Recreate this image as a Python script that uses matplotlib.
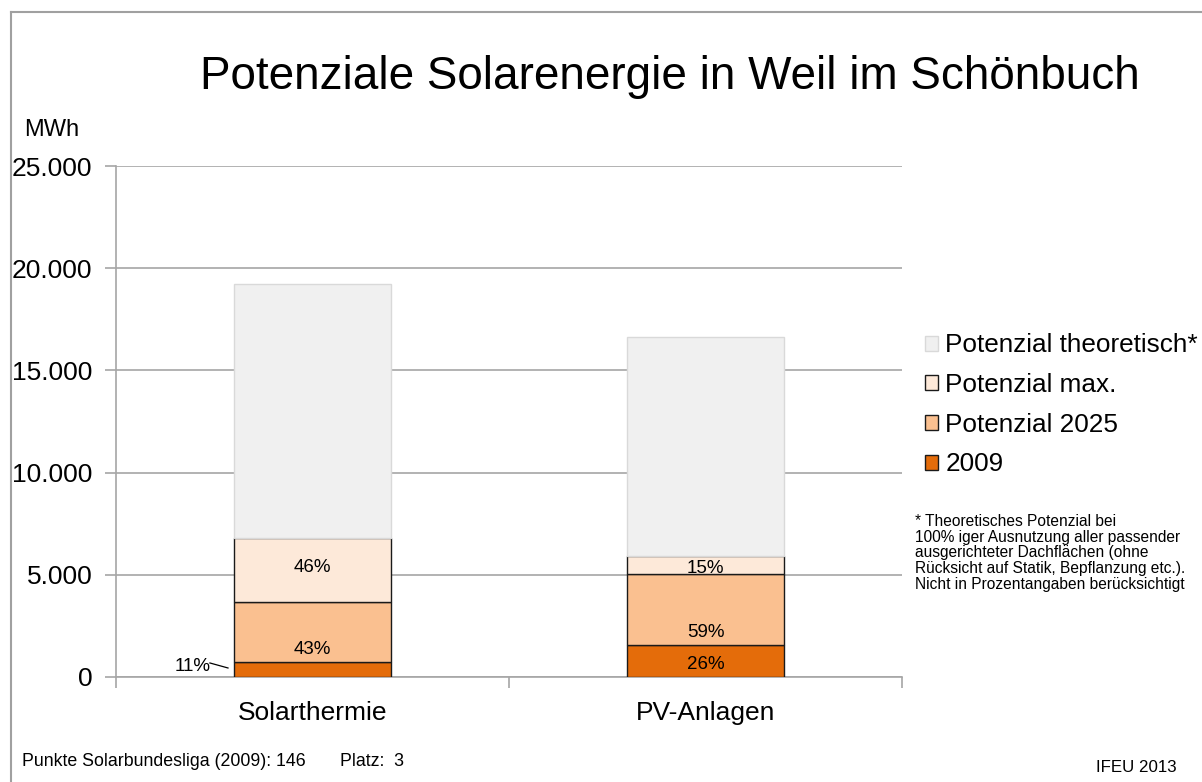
import numpy as np
import matplotlib
matplotlib.use('Agg')
import matplotlib.pyplot as plt
from matplotlib.patches import Patch
from matplotlib.lines import Line2D

plt.rcParams['font.family'] = ['Liberation Sans', 'DejaVu Sans']

categories = ['Solarthermie', 'PV-Anlagen']
# max. potential (MWh) and shares of it in percent
potential_max = np.array([6800, 5930])
share_2009 = np.array([11, 26])
share_2025 = np.array([43, 59])
share_max = np.array([46, 15])
# theoretical potential, total height of the bar (MWh)
potential_theoretical = np.array([19250, 16620])

series = ['2009', 'Potenzial 2025', 'Potenzial max.', 'Potenzial theoretisch*']
colors = ['#E46C0A', '#FAC090', '#FDE9D9', '#F0F0F0']
edges = ['#1a1a1a', '#1a1a1a', '#1a1a1a', '#D9D9D9']

seg_2009 = potential_max * share_2009 / 100
seg_2025 = potential_max * share_2025 / 100
seg_max = potential_max * share_max / 100
seg_theo = potential_theoretical - potential_max
segments = [seg_2009, seg_2025, seg_max, seg_theo]
shares = [share_2009, share_2025, share_max, None]

fig = plt.figure(figsize=(12.02, 7.82), dpi=100)
ax = fig.add_axes([0.0965, 0.1343, 0.6539, 0.6534])

x = np.arange(len(categories))
bottom = np.zeros(len(categories))
for vals, name, c, ec in zip(segments, series, colors, edges):
    ax.bar(x, vals, width=0.4, bottom=bottom, color=c, edgecolor=ec,
           linewidth=1.0, label=name, zorder=3)
    bottom = bottom + vals

# percentage labels
base = np.zeros(len(categories))
for k, (vals, sh) in enumerate(zip(segments, shares)):
    if sh is None:
        break
    for i in range(len(categories)):
        txt = '%d%%' % sh[i]
        if k == 0 and i == 0:
            # small segment: label left of the bar with a leader line
            ax.text(x[i] - 0.304, 490, txt, fontsize=13.5, ha='center',
                    va='center', zorder=5)
            ax.plot([x[i] - 0.261, x[i] - 0.215], [685, 440], color='black',
                    lw=0.9, zorder=5, clip_on=False)
            continue
        if k == 2 and i == 0:
            ax.text(x[i], base[i] + vals[i] / 2 + 100, txt, fontsize=13.5,
                    ha='center', va='center', zorder=5)
            continue
        off = 4 if (k == 2) else 9
        ax.annotate(txt, xy=(x[i], base[i]), xytext=(0, off),
                    textcoords='offset points', fontsize=13.5,
                    ha='center', va='center', zorder=5)
    base = base + vals

ax.set_xlim(-0.5, 1.5)
ax.set_ylim(0, 25000)
ax.set_yticks(np.arange(0, 25001, 5000))
ax.set_yticklabels(['0', '5.000', '10.000', '15.000', '20.000', '25.000'])
ax.yaxis.grid(True, color='#A6A6A6', linewidth=1.2, zorder=0)
ax.set_xticks([-0.5, 0.5, 1.5])
ax.set_xticklabels([])
ax.set_xticks(x, minor=True)
ax.set_xticklabels(categories, minor=True)
ax.tick_params(axis='x', which='minor', length=0, pad=17, labelsize=19)
ax.tick_params(axis='x', which='major', length=8, width=1.2, color='#A6A6A6')
ax.tick_params(axis='y', length=8, width=1.2, color='#A6A6A6', pad=9, labelsize=19)
for s in ['top', 'right']:
    ax.spines[s].set_visible(False)
for s in ['left', 'bottom']:
    ax.spines[s].set_color('#A6A6A6')
    ax.spines[s].set_linewidth(1.2)

fig.text(0.557, 0.9015, 'Potenziale Solarenergie in Weil im Schönbuch',
         fontsize=33, ha='center', va='center')
fig.text(0.043, 0.834, 'MWh', fontsize=17, ha='center', va='center')

handles = [Patch(facecolor=colors[j], edgecolor=edges[j], linewidth=1.0)
           for j in range(3, -1, -1)]
fig.legend(handles, series[::-1], loc='upper left',
           bbox_to_anchor=(0.7605, 0.587), frameon=False, fontsize=18.8,
           handlelength=0.5, handleheight=0.5, handletextpad=0.3,
           labelspacing=0.6, borderaxespad=0)

fig.text(0.761, 0.343,
         '* Theoretisches Potenzial bei\n'
         '100% iger Ausnutzung aller passender\n'
         'ausgerichteter Dachflächen (ohne\n'
         'Rücksicht auf Statik, Bepflanzung etc.).\n'
         'Nicht in Prozentangaben berücksichtigt',
         fontsize=11.2, ha='left', va='top', linespacing=1.07)

fig.text(0.018, 0.026, 'Punkte Solarbundesliga (2009): 146',
         fontsize=12.8, ha='left', va='center')
fig.text(0.283, 0.026, 'Platz:  3', fontsize=12.8, ha='left', va='center')
fig.text(0.912, 0.018, 'IFEU 2013', fontsize=12.2, ha='left', va='center')

# outer frame
fig.add_artist(Line2D([11 / 1202, 11 / 1202], [0, 1 - 12 / 782],
                      transform=fig.transFigure, color='#A0A0A0', lw=1.5))
fig.add_artist(Line2D([11 / 1202, 1], [1 - 12 / 782, 1 - 12 / 782],
                      transform=fig.transFigure, color='#A0A0A0', lw=1.5))

fig.savefig('out.png', dpi=100)
